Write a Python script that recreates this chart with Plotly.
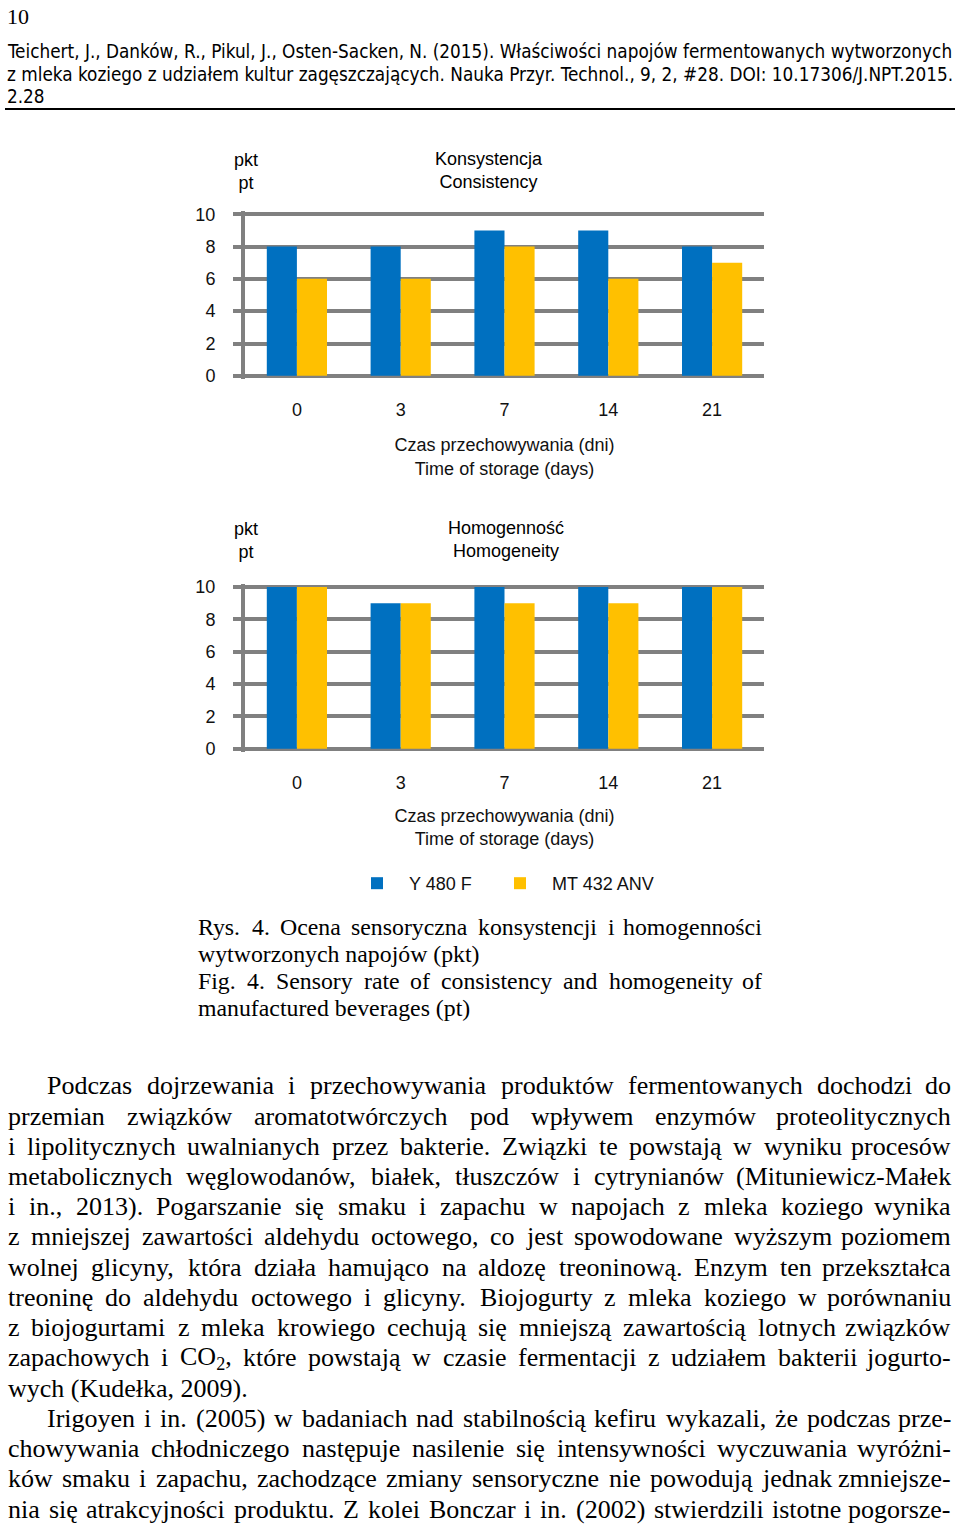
import plotly.graph_objects as go

# ---------------- data ----------------
days = ["0", "3", "7", "14", "21"]
series_names = ["Y 480 F", "MT 432 ANV"]
consistency_y480f = [8, 8, 9, 9, 8]
consistency_mt432 = [6, 6, 8, 6, 7]
homogeneity_y480f = [10, 9, 10, 10, 10]
homogeneity_mt432 = [10, 9, 9, 9, 10]
y_ticks = [0, 2, 4, 6, 8, 10]

header_lines = [
    "Teichert, J., Danków, R., Pikul, J., Osten-Sacken, N. (2015). Właściwości napojów fermentowanych wytworzonych",
    "z mleka koziego z udziałem kultur zagęszczających. Nauka Przyr. Technol., 9, 2, #28. DOI: 10.17306/J.NPT.2015.",
    "2.28",
]
caption_lines = [
    "Rys. 4. Ocena sensoryczna konsystencji i homogenności",
    "wytworzonych napojów (pkt)",
    "Fig. 4. Sensory rate of consistency and homogeneity of",
    "manufactured beverages (pt)",
]
caption_justified = {0, 2}
body_lines = [
    "Podczas dojrzewania i przechowywania produktów fermentowanych dochodzi do",
    "przemian związków aromatotwórczych pod wpływem enzymów proteolitycznych",
    "i lipolitycznych uwalnianych przez bakterie. Związki te powstają w wyniku procesów",
    "metabolicznych węglowodanów, białek, tłuszczów i cytrynianów (Mituniewicz-Małek",
    "i in., 2013). Pogarszanie się smaku i zapachu w napojach z mleka koziego wynika",
    "z mniejszej zawartości aldehydu octowego, co jest spowodowane wyższym poziomem",
    "wolnej glicyny, która działa hamująco na aldozę treoninową. Enzym ten przekształca",
    "treoninę do aldehydu octowego i glicyny. Biojogurty z mleka koziego w porównaniu",
    "z biojogurtami z mleka krowiego cechują się mniejszą zawartością lotnych związków",
    "zapachowych i CO<sub>2</sub>, które powstają w czasie fermentacji z udziałem bakterii jogurto-",
    "wych (Kudełka, 2009).",
    "Irigoyen i in. (2005) w badaniach nad stabilnością kefiru wykazali, że podczas prze-",
    "chowywania chłodniczego następuje nasilenie się intensywności wyczuwania wyróżni-",
    "ków smaku i zapachu, zachodzące zmiany sensoryczne nie powodują jednak zmniejsze-",
    "nia się atrakcyjności produktu. Z kolei Bonczar i in. (2002) stwierdzili istotne pogorsze-",
]
body_indent = {0, 11}
body_ragged = {10}

# ---------------- layout helpers ----------------
W, H = 960, 1532
BLUE = "#0070C0"
YELLOW = "#FFC000"
GRAY = "#808080"
SANS = "Liberation Sans, Arial, sans-serif"
SERIF = "Liberation Serif, Times New Roman, serif"
HEAD = "DejaVu Sans Condensed, Liberation Sans, sans-serif"

# Times New Roman advance widths (per 1000 em) used only for justifying text lines
_TW = {}
for ch, w in zip("abcdefghijklmnopqrstuvwxyz",
                 [444, 500, 444, 500, 444, 333, 500, 500, 278, 278, 500, 278, 778,
                  500, 500, 500, 500, 333, 389, 278, 500, 500, 722, 500, 500, 444]):
    _TW[ch] = w
for ch, w in zip("ABCDEFGHIJKLMNOPQRSTUVWXYZ",
                 [722, 667, 667, 722, 611, 556, 722, 722, 333, 389, 722, 611, 889,
                  722, 722, 556, 722, 667, 556, 611, 722, 722, 944, 722, 722, 611]):
    _TW[ch] = w
for ch in "0123456789":
    _TW[ch] = 500
_TW.update({" ": 250, ".": 250, ",": 250, "(": 333, ")": 333, "-": 333, ":": 278,
            "ą": 444, "ć": 444, "ę": 444, "ł": 278, "ń": 500, "ó": 500, "ś": 389,
            "ź": 444, "ż": 444, "Ł": 611, "Ś": 556, "Ź": 611, "Ż": 611, "Ó": 722})


def word_width(word, size):
    total = 0.0
    scale = 1.0
    i = 0
    while i < len(word):
        if word.startswith("<sub>", i):
            scale = 0.7
            i += 5
            continue
        if word.startswith("</sub>", i):
            scale = 1.0
            i += 6
            continue
        total += _TW.get(word[i], 500) * scale
        i += 1
    return total / 1000.0 * size


def py(p):
    return 1 - p / H


def px(p):
    return p / W


pad = 0.2
unit = 16.3


def ydomain(p0, p10):
    return [py(p0 + pad * unit), py(p10 - pad * unit)]


fig = go.Figure()

fig.add_trace(go.Bar(x=days, y=consistency_y480f, name=series_names[0],
                     marker=dict(color=BLUE, line=dict(width=0)),
                     xaxis="x", yaxis="y", legend="legend"))
fig.add_trace(go.Bar(x=days, y=consistency_mt432, name=series_names[1],
                     marker=dict(color=YELLOW, line=dict(width=0)),
                     xaxis="x", yaxis="y", legend="legend2"))
fig.add_trace(go.Bar(x=days, y=homogeneity_y480f, name=series_names[0],
                     marker=dict(color=BLUE, line=dict(width=0)),
                     xaxis="x2", yaxis="y2", showlegend=False))
fig.add_trace(go.Bar(x=days, y=homogeneity_mt432, name=series_names[1],
                     marker=dict(color=YELLOW, line=dict(width=0)),
                     xaxis="x2", yaxis="y2", showlegend=False))

xdom = [px(245), px(764)]


def xaxis_cfg(anchor, standoff):
    return dict(
        anchor=anchor, domain=xdom, type="category", showgrid=False, showline=False,
        ticks="", zeroline=False, tickfont=dict(family=SANS, size=18, color="#111"),
        ticklabelstandoff=18, fixedrange=True,
        title=dict(text="Czas przechowywania (dni)<br>Time of storage (days)",
                   font=dict(family=SANS, size=18, color="#111"), standoff=standoff),
    )


yaxis_common = dict(
    range=[-pad, 10 + pad], tickvals=y_ticks, showgrid=True, gridcolor=GRAY,
    gridwidth=4, zeroline=True, zerolinecolor=GRAY, zerolinewidth=4,
    showline=True, linecolor=GRAY, linewidth=4, ticks="outside", ticklen=8,
    tickwidth=4, tickcolor=GRAY, tickfont=dict(family=SANS, size=18, color="#111"),
    ticklabelstandoff=14, fixedrange=True,
)


def legend_cfg(x):
    return dict(orientation="h", x=px(x), y=py(885), xanchor="left", yanchor="middle",
                font=dict(family=SANS, size=18, color="#111"), itemwidth=54,
                bgcolor="rgba(0,0,0,0)", borderwidth=0)


fig.update_layout(
    width=W, height=H, autosize=False,
    margin=dict(l=0, r=0, t=0, b=0),
    paper_bgcolor="white", plot_bgcolor="white",
    barmode="group", bargap=0.42, bargroupgap=0,
    xaxis=xaxis_cfg("y", 19),
    yaxis=dict(anchor="x", domain=ydomain(373, 210), **yaxis_common),
    xaxis2=xaxis_cfg("y2", 17),
    yaxis2=dict(anchor="x2", domain=ydomain(749, 586), **yaxis_common),
    legend=legend_cfg(345),
    legend2=legend_cfg(488),
    showlegend=True,
)

ann = []


def text(x, y, s, size, family, xanchor="left", align="left"):
    ann.append(dict(x=px(x), y=py(y), xref="paper", yref="paper", text=s,
                    showarrow=False, xanchor=xanchor, yanchor="middle", align=align,
                    borderpad=0, font=dict(family=family, size=size, color="#000")))


def justified(left, right, y, s, size):
    words = s.split(" ")
    widths = [word_width(w, size) for w in words]
    gap = (right - left - sum(widths)) / (len(words) - 1)
    x = left
    for k, (w, ww) in enumerate(zip(words, widths)):
        if k == len(words) - 1:
            text(right, y, w, size, SERIF, xanchor="right")
        else:
            text(x, y, w, size, SERIF)
        x += ww + gap


# chart titles / unit labels
text(489, 166, "Konsystencja<br>Consistency", 18, SANS, "center", "center")
text(246, 167, "pkt<br>pt", 18, SANS, "center", "center")
text(506, 538.5, "Homogenność<br>Homogeneity", 18, SANS, "center", "center")
text(246, 539.5, "pkt<br>pt", 18, SANS, "center", "center")

# page header
text(6, 11, "10", 22, SERIF)
for i, s in enumerate(header_lines):
    text(6, 46 + i * 22.7, s, 18.8, HEAD)

# caption
for i, s in enumerate(caption_lines):
    yy = 929 + i * 27.3
    if i in caption_justified:
        justified(197, 763, yy, s, 23.8)
    else:
        text(197, yy, s, 23.8, SERIF)

# body
for i, s in enumerate(body_lines):
    x0 = 46 if i in body_indent else 7
    yy = 1089 + i * 30.5
    if i in body_ragged:
        text(x0, yy, s, 26, SERIF)
    else:
        justified(x0, 952, yy, s, 26)

fig.update_layout(annotations=ann)
fig.add_shape(type="line", xref="paper", yref="paper", x0=px(5), x1=px(955),
              y0=py(104), y1=py(104), line=dict(color="#000", width=2))

fig.write_html("out.html", config={"displayModeBar": False},
               post_script="document.body.style.margin='0';document.body.style.overflow='hidden';")
